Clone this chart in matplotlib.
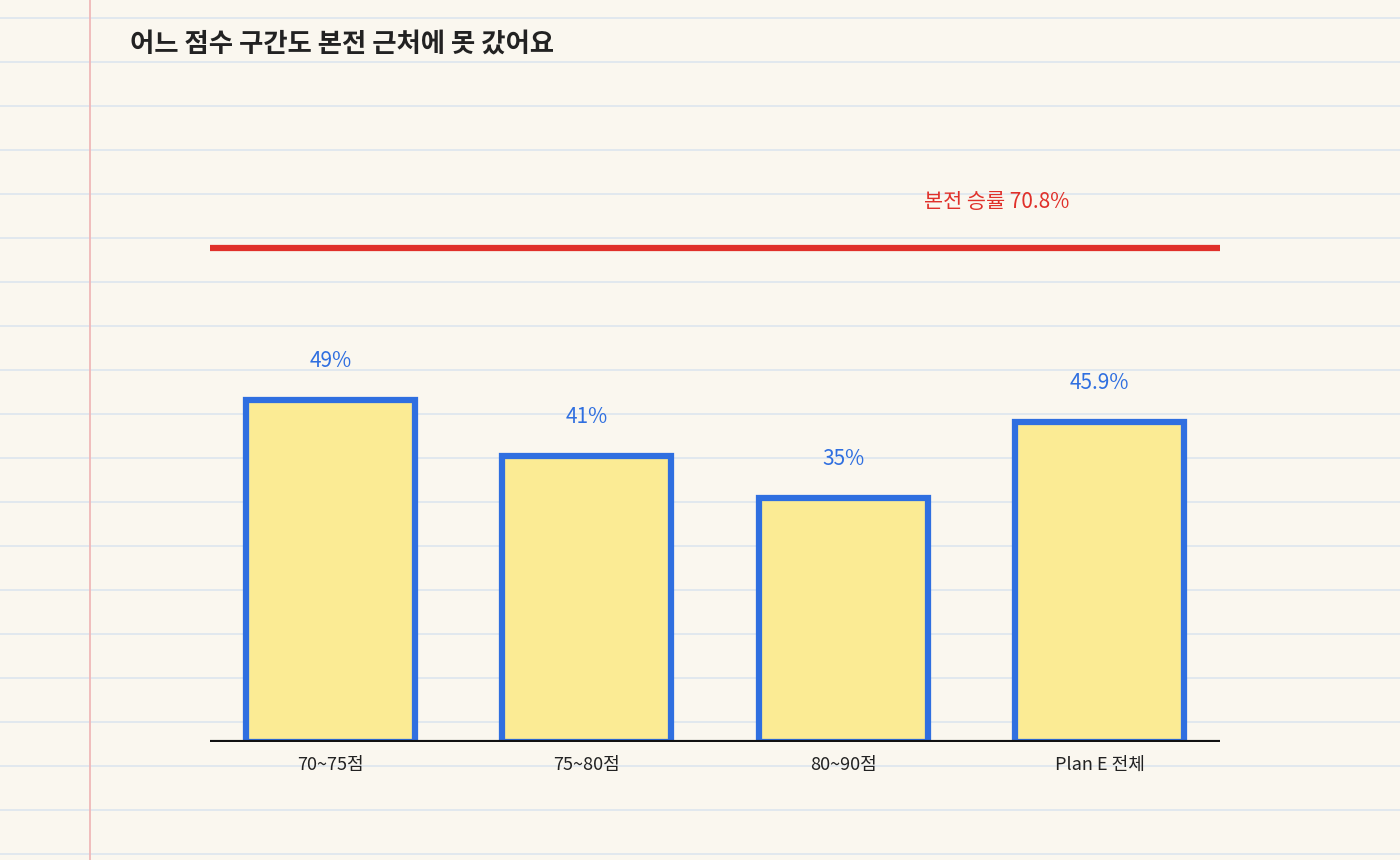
import matplotlib
matplotlib.use("Agg")
import matplotlib.pyplot as plt

plt.rcParams['font.family'] = ['Noto Sans CJK KR', 'DejaVu Sans']

categories = ["70~75점", "75~80점", "80~90점", "Plan E 전체"]
values = [49, 41, 35, 45.9]
labels = ["49%", "41%", "35%", "45.9%"]
baseline_value = 70.8
title = "어느 점수 구간도 본전 근처에 못 갔어요"

W, H = 1400, 860
fig = plt.figure(figsize=(W/100, H/100), dpi=100)
fig.patch.set_facecolor("#faf7ef")

bg = fig.add_axes([0, 0, 1, 1])
bg.set_xlim(0, W); bg.set_ylim(H, 0); bg.axis("off")
for y in range(18, H, 44):
    bg.axhline(y, color="#dde6ee", lw=1.2, zorder=0)
bg.axvline(90, color="#f0b8b8", lw=1.3, zorder=0)
bg.text(130, 45, title, fontsize=19, color="#222222", va="center", ha="left", fontweight="bold")

left, right, bottom_px, top_px = 210, 1220, 742, 100
ax = fig.add_axes([left/W, (H-bottom_px)/H, (right-left)/W, (bottom_px-top_px)/H])
ax.set_facecolor("none")
ax.set_xlim(-0.47, 3.47)
ax.set_ylim(0, (bottom_px-top_px)/6.98)
x = range(len(categories))
ax.bar(x, values, width=0.66, color="#fbeb94", edgecolor="#2f6fe0", linewidth=4.5, zorder=3)
for xi, v, l in zip(x, values, labels):
    ax.text(xi, v + 4, l, ha="center", va="bottom", color="#2f6fe0", fontsize=15)
ax.axhline(baseline_value, color="#e0302a", lw=4.5, zorder=4)
ax.text(2.6, baseline_value + 5, f"본전 승률 {baseline_value}%", color="#e0302a",
        fontsize=15, ha="center", va="bottom")
ax.axhline(0, color="#111111", lw=3, zorder=5)
ax.set_xticks(list(x))
ax.set_xticklabels(categories, fontsize=13, color="#222222")
ax.tick_params(axis="x", length=0, pad=10)
ax.set_yticks([])
for s in ax.spines.values():
    s.set_visible(False)

fig.savefig("out.png", dpi=100, facecolor=fig.get_facecolor())
